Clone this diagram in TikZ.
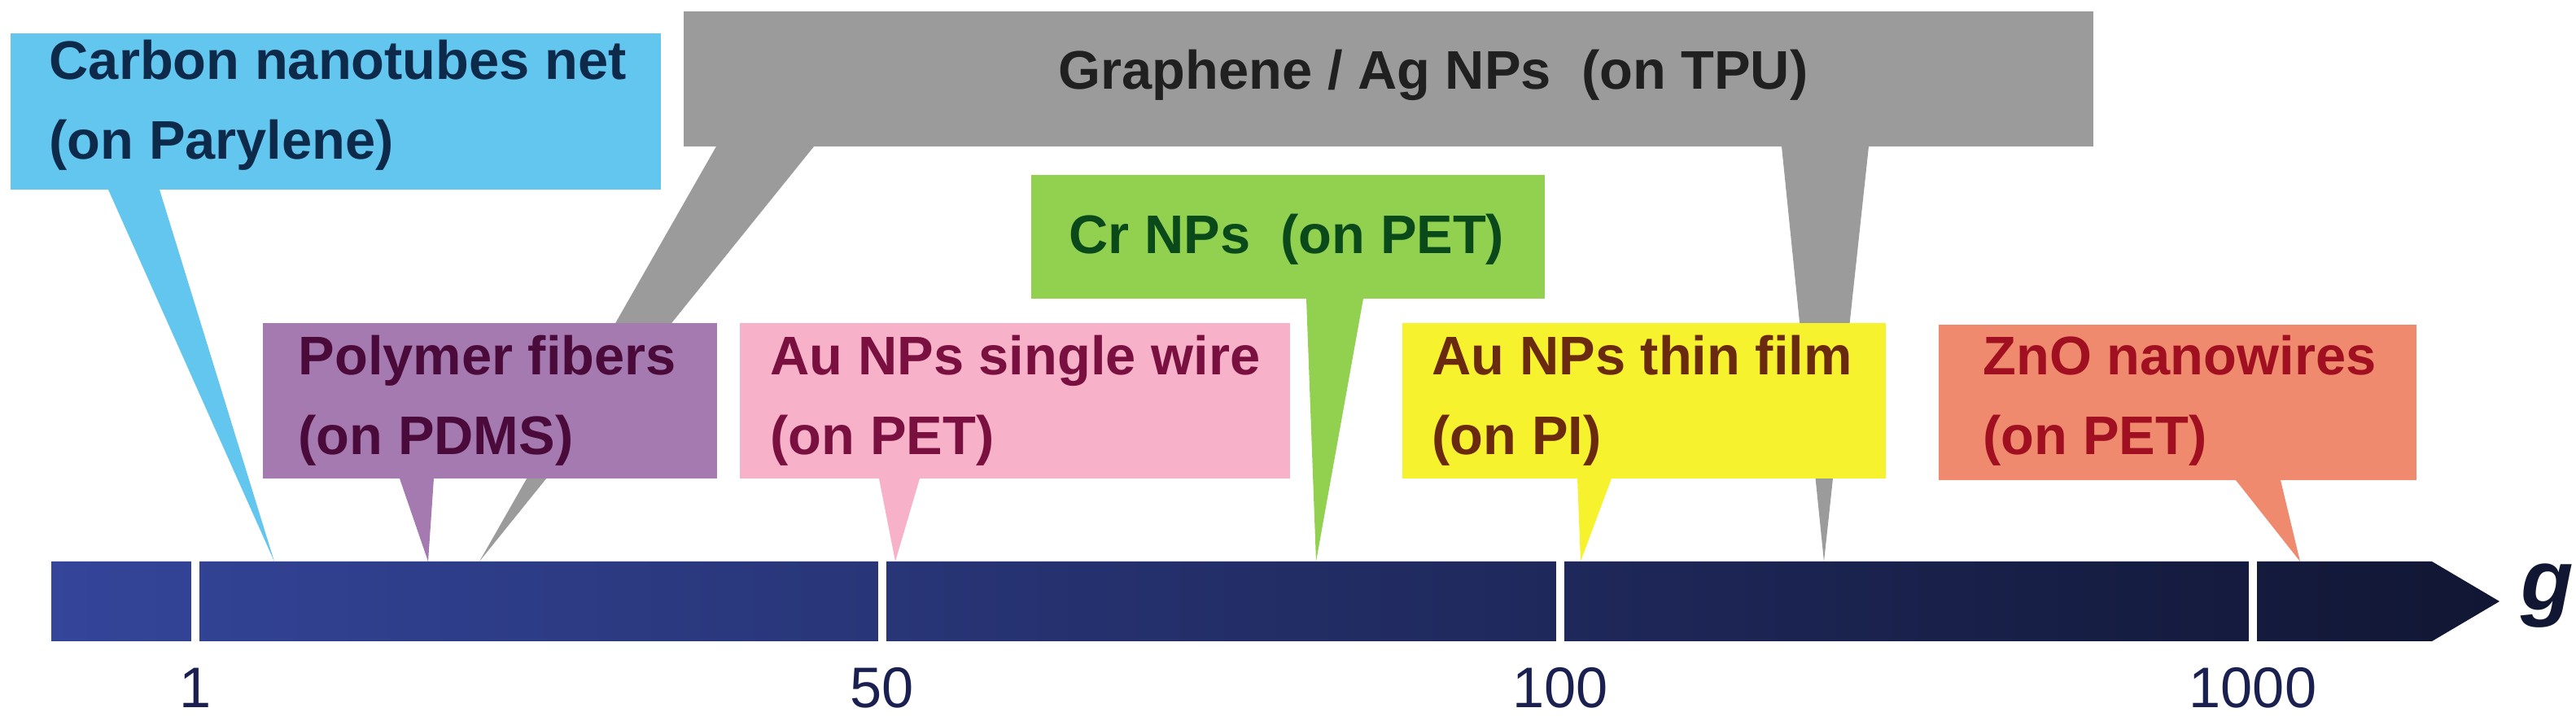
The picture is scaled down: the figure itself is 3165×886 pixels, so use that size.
\documentclass[tikz,border=0pt]{standalone}
\usepackage{fontspec}
\setmainfont{Liberation Sans}
\definecolor{cblue}{HTML}{63C6EF}
\definecolor{cgray}{HTML}{9B9B9B}
\definecolor{cpurple}{HTML}{A57AB1}
\definecolor{cpink}{HTML}{F7B1C8}
\definecolor{cgreen}{HTML}{92D050}
\definecolor{cyellow}{HTML}{F7F22E}
\definecolor{corange}{HTML}{EF8A6E}
\definecolor{tblue}{HTML}{0D2A4A}
\definecolor{tpurple}{HTML}{4A0A3A}
\definecolor{tpink}{HTML}{7A1040}
\definecolor{tgray}{HTML}{202020}
\definecolor{tgreen}{HTML}{0A4A1A}
\definecolor{tyellow}{HTML}{6A2A10}
\definecolor{torange}{HTML}{A01020}
\definecolor{barL}{HTML}{34459A}
\definecolor{barR}{HTML}{111633}
\definecolor{tick}{HTML}{1A2050}
\tikzset{
  lbl/.style={anchor=west,align=left,font=\fontsize{19}{28}\selectfont\bfseries,inner sep=0pt},
  ticklbl/.style={font=\fontsize{20}{24}\selectfont,text=tick},
  sep/.style={white,line width=0.1cm}
}
\begin{document}
\begin{tikzpicture}[x=0.01cm,y=-0.01cm]
\useasboundingbox (0,0) rectangle (3165,886);
% gray callout
\fill[cgray] (840,14) rectangle (2572,180);
\fill[cgray] (880,180) -- (1000,180) -- (589,690) -- cycle;
\fill[cgray] (2189,180) -- (2296,180) -- (2241,690) -- cycle;
\node[lbl,text=tgray] (gr) at (1300,92) {Graphene / Ag NPs\ \ (on TPU)};
% blue callout
\fill[cblue] (13,41) rectangle (812,233);
\fill[cblue] (133,233) -- (196,233) -- (337,690) -- cycle;
\node[lbl,text=tblue] (cn) at (60,129) {Carbon nanotubes net\\(on Parylene)};
% green callout
\fill[cgreen] (1267,215) rectangle (1898,367);
\fill[cgreen] (1605,367) -- (1675,367) -- (1617,690) -- cycle;
\node[lbl,text=tgreen] (cr) at (1313,294) {Cr NPs\ \ (on PET)};
% purple
\fill[cpurple] (323,397) rectangle (881,588);
\fill[cpurple] (491,588) -- (533,588) -- (526,690) -- cycle;
\node[lbl,text=tpurple] (pf) at (366,492) {Polymer fibers\\(on PDMS)};
% pink
\fill[cpink] (909,397) rectangle (1585,588);
\fill[cpink] (1080,588) -- (1130,588) -- (1100,690) -- cycle;
\node[lbl,text=tpink] (au1) at (946,492) {Au NPs single wire\\(on PET)};
% yellow
\fill[cyellow] (1723,397) rectangle (2317,588);
\fill[cyellow] (1938,588) -- (1980,588) -- (1942,690) -- cycle;
\node[lbl,text=tyellow] (au2) at (1759,492) {Au NPs thin film\\(on PI)};
% orange
\fill[corange] (2382,399) rectangle (2969,590);
\fill[corange] (2747,590) -- (2802,590) -- (2826,690) -- cycle;
\node[lbl,text=torange] (zn) at (2436,492) {ZnO nanowires\\(on PET)};
% bar
\shade[left color=barL,right color=barR] (63,690) -- (2988,690) -- (3071,739) -- (2988,788) -- (63,788) -- cycle;
\draw[sep] (240,686) -- (240,792);
\draw[sep] (1084,686) -- (1084,792);
\draw[sep] (1917,686) -- (1917,792);
\draw[sep] (2768,686) -- (2768,792);
\node[ticklbl] (t1) at (240,845) {1};
\node[ticklbl] (t50) at (1084,845) {50};
\node[ticklbl] (t100) at (1917,845) {100};
\node[ticklbl] (t1000) at (2768,845) {1000};
\node[font=\fontsize{30}{34}\selectfont\bfseries\itshape,text=barR] (g) at (3130,732) {g};
\end{tikzpicture}
\end{document}
